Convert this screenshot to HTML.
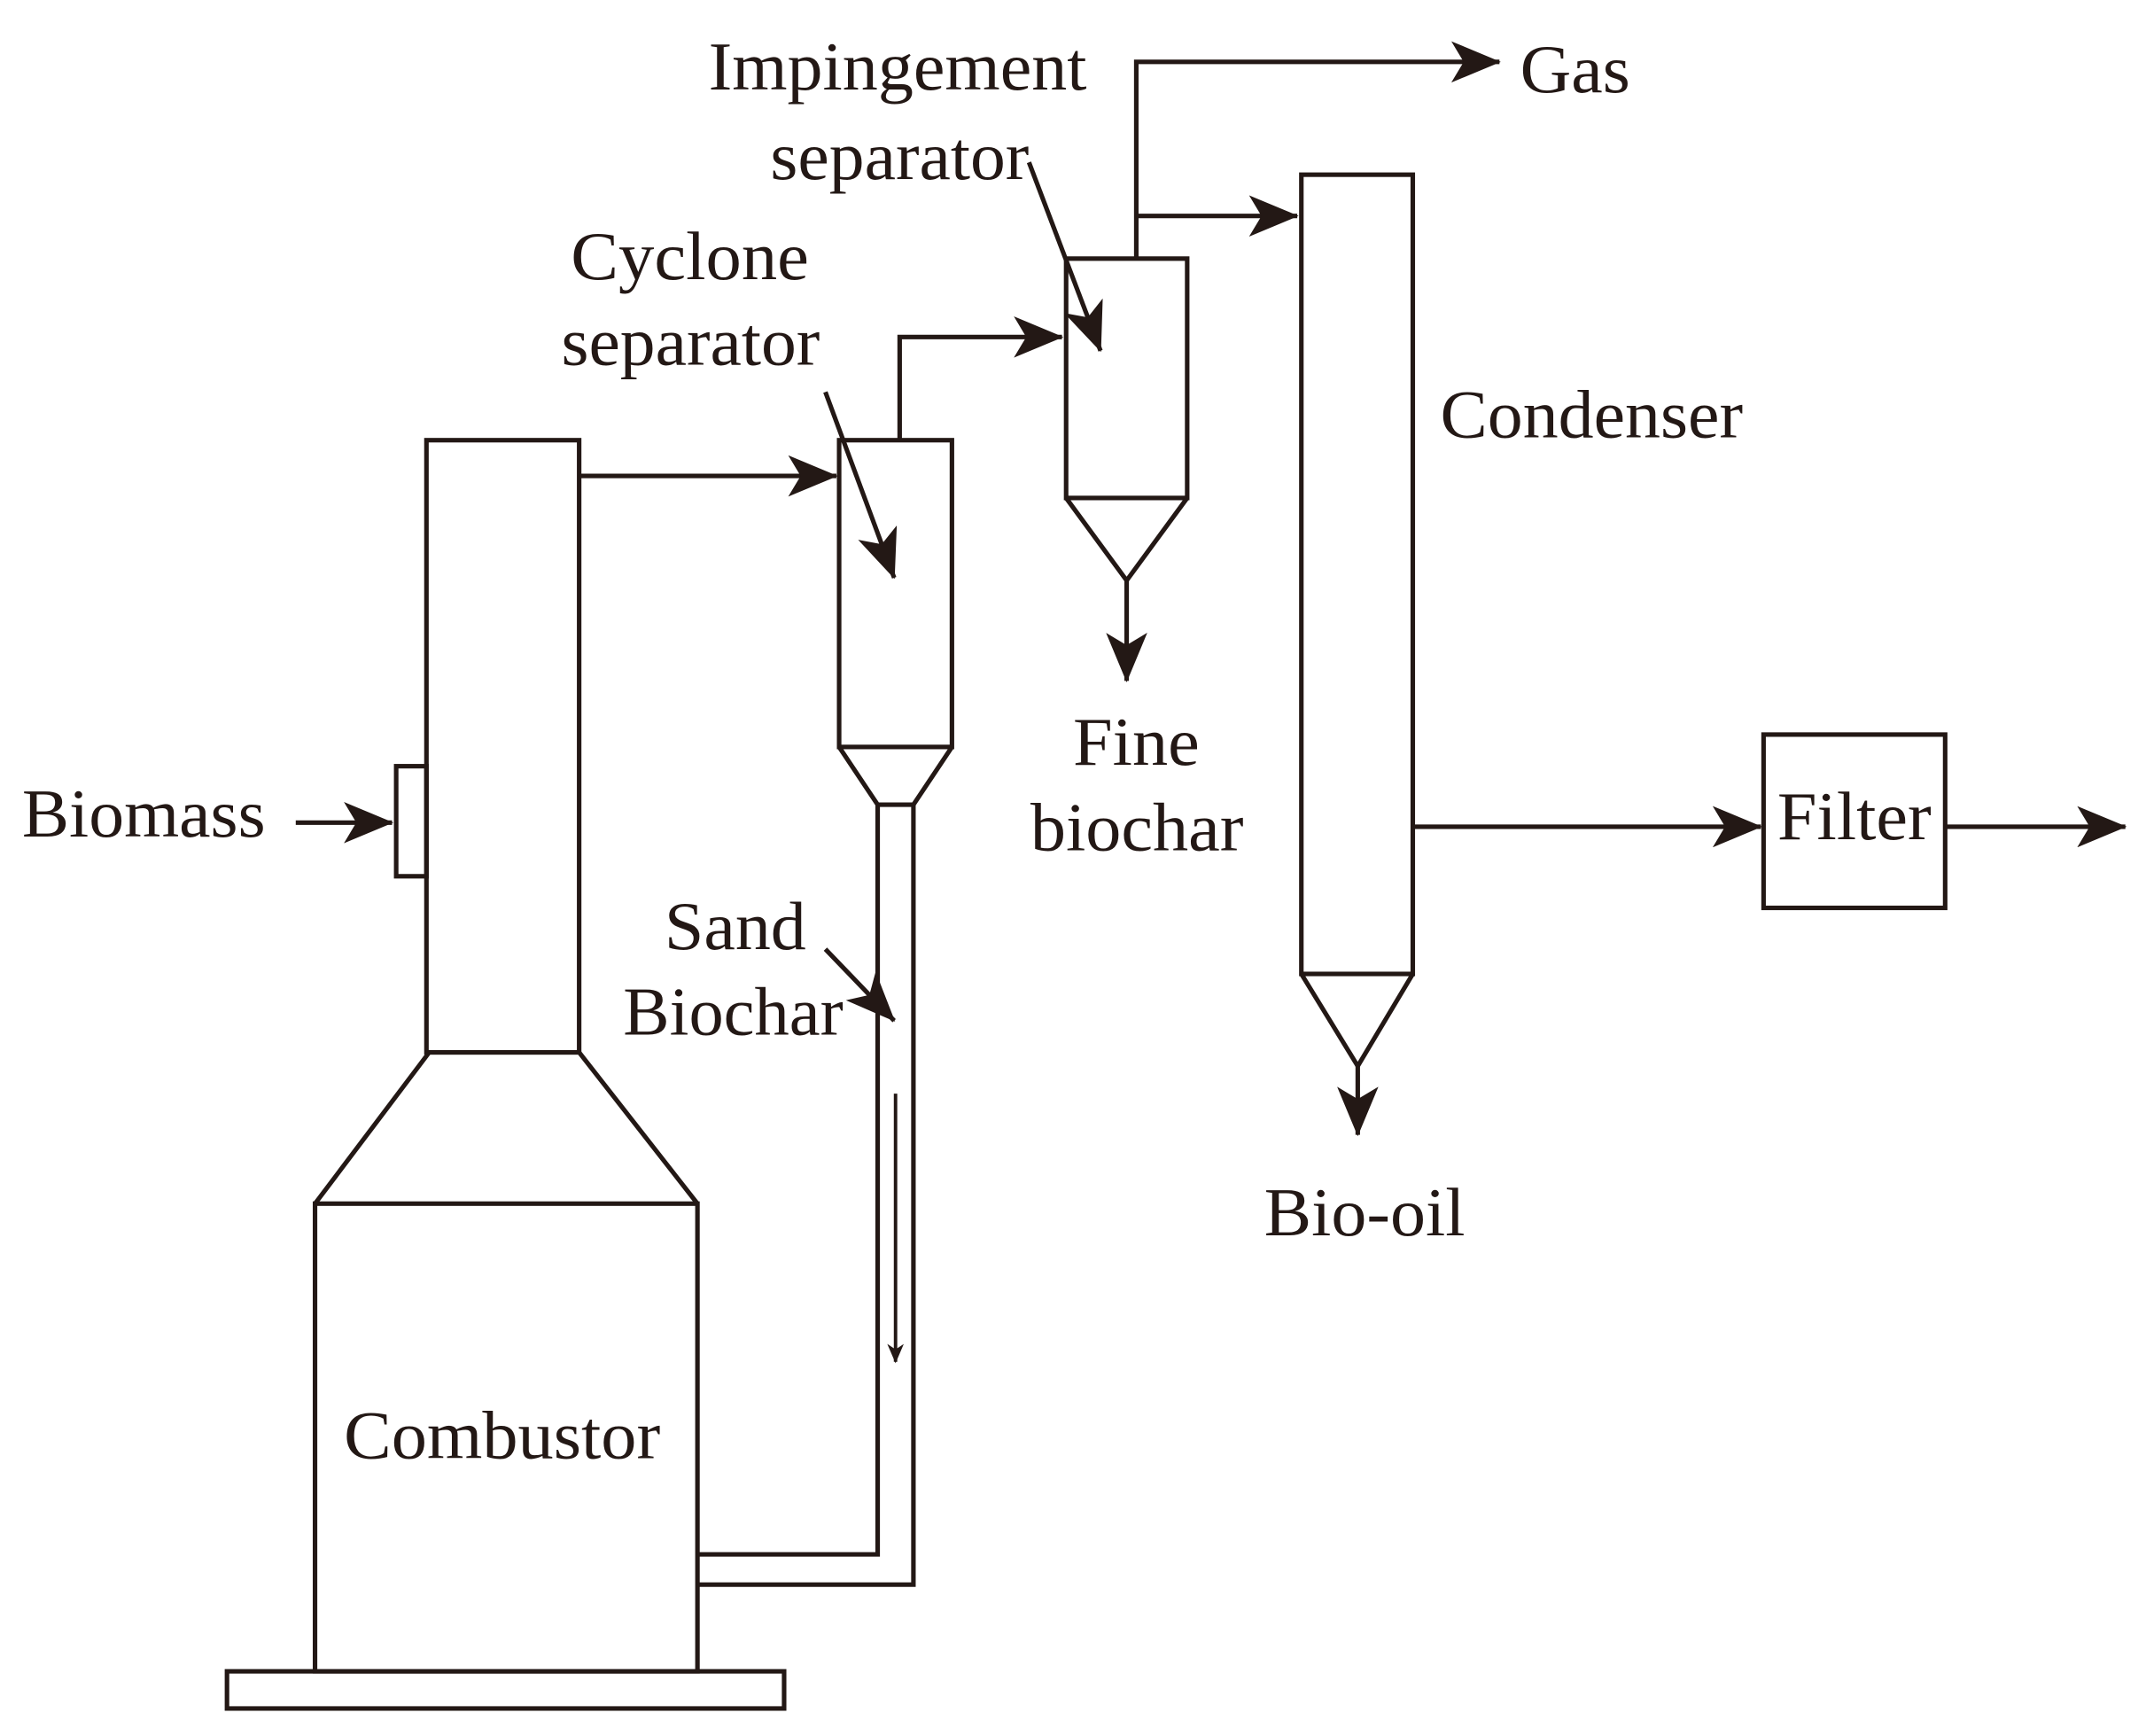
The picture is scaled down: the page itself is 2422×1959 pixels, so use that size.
<!DOCTYPE html>
<html><head><meta charset="utf-8"><style>
html,body{margin:0;padding:0;background:#fff;}
svg{display:block;}
text{font-family:"Liberation Serif",serif;font-size:50px;fill:#231815;}
</style></head><body>
<svg width="2422" height="1959" viewBox="0 0 1560 1262" preserveAspectRatio="none" xmlns="http://www.w3.org/2000/svg">
<defs>
<marker id="a" markerWidth="14" markerHeight="12" refX="13" refY="6" orient="auto" markerUnits="userSpaceOnUse">
<path d="M0,0 L14,6 L0,12 L4,6 Z" fill="#231815"/>
</marker>
<marker id="b" markerWidth="36" markerHeight="30" refX="35" refY="15" orient="auto" markerUnits="userSpaceOnUse">
<path d="M0,0 L36,15 L0,30 L9,15 Z" fill="#231815"/>
</marker>
</defs>
<g fill="none" stroke="#231815" stroke-width="3.3">
<rect x="165" y="1215" width="405" height="27"/>
<rect x="229" y="875" width="278" height="340"/>
<path d="M229,875 L312,765 L421,765 L507,875"/>
<rect x="310" y="320" width="111" height="445"/>
<rect x="288" y="557" width="22" height="80"/>
<path d="M215,598 L285,598" marker-end="url(#b)"/>
<path d="M421,346 L608,346" marker-end="url(#b)"/>
<rect x="610" y="320" width="82" height="223"/>
<path d="M610,543 L638,585 L664,585 L692,543"/>
<path d="M638,585 L638,1130 L507,1130"/>
<path d="M664,585 L664,1152 L507,1152"/>
<path d="M651,795 L651,990" stroke-width="2.5" marker-end="url(#a)"/>
<path d="M654,320 L654,245 L772,245" marker-end="url(#b)"/>
<rect x="775" y="188" width="88" height="174"/>
<path d="M775,362 L819,422 L863,362"/>
<path d="M819,422 L819,495" marker-end="url(#b)"/>
<path d="M826,188 L826,45 L1090,45" marker-end="url(#b)"/>
<path d="M826,157 L943,157" marker-end="url(#b)"/>
<rect x="946" y="127" width="81" height="581"/>
<path d="M946,708 L987,775 L1027,708"/>
<path d="M987,775 L987,825" marker-end="url(#b)"/>
<path d="M1027,601 L1280,601" marker-end="url(#b)"/>
<rect x="1282" y="534" width="132" height="126"/>
<path d="M1414,601 L1545,601" marker-end="url(#b)"/>
<path d="M748,118 L800,255" marker-end="url(#b)"/>
<path d="M600,285 L650,420" marker-end="url(#b)"/>
<path d="M600,690 L650,742" marker-end="url(#b)"/>
</g>
<g>
<text x="515" y="65" textLength="275" lengthAdjust="spacingAndGlyphs">Impingement</text>
<text x="560" y="130" textLength="188" lengthAdjust="spacingAndGlyphs">separator</text>
<text x="415" y="203" textLength="173" lengthAdjust="spacingAndGlyphs">Cyclone</text>
<text x="408" y="265" textLength="188" lengthAdjust="spacingAndGlyphs">separator</text>
<text x="1105" y="67" textLength="80" lengthAdjust="spacingAndGlyphs">Gas</text>
<text x="1047" y="318" textLength="220" lengthAdjust="spacingAndGlyphs">Condenser</text>
<text x="780" y="556" textLength="92" lengthAdjust="spacingAndGlyphs">Fine</text>
<text x="749" y="618" textLength="155" lengthAdjust="spacingAndGlyphs">biochar</text>
<text x="1292" y="610" textLength="112" lengthAdjust="spacingAndGlyphs">Filter</text>
<text x="16" y="608" textLength="177" lengthAdjust="spacingAndGlyphs">Biomass</text>
<text x="483" y="690" textLength="103" lengthAdjust="spacingAndGlyphs">Sand</text>
<text x="453" y="752" textLength="160" lengthAdjust="spacingAndGlyphs">Biochar</text>
<text x="919" y="898" textLength="146" lengthAdjust="spacingAndGlyphs">Bio-oil</text>
<text x="250" y="1060" textLength="230" lengthAdjust="spacingAndGlyphs">Combustor</text>
</g>
</svg>
</body></html>
